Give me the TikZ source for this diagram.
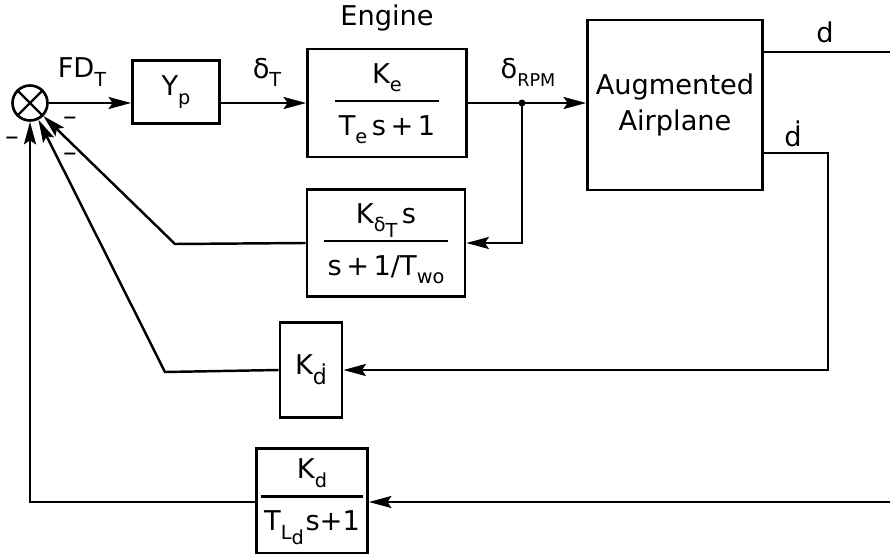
\documentclass[tikz,border=0pt]{standalone}
\usepackage{fontspec}
\setmainfont{DejaVu Sans}
\usepackage{tikz}
\usetikzlibrary{arrows.meta,positioning}
\setlength{\arrayrulewidth}{1.2pt}
\newcommand{\dn}[1]{\raisebox{-0.55ex}{\fontsize{11}{11}\selectfont #1}}
\newcommand{\blockfrac}[2]{\begin{tabular}{@{\hspace{2pt}}c@{\hspace{2pt}}}#1\\[4pt]\hline\rule{0pt}{19pt}#2\end{tabular}}

\begin{document}
\begin{tikzpicture}[
    x=0.02cm, y=-0.02cm,
    every node/.style={font=\fontsize{15.5}{18}\selectfont},
    box/.style={draw, line width=1.6pt, align=center, inner sep=0pt},
    arrow/.style={-{Stealth[length=4.5mm,width=2.4mm,inset=0.8mm]}, line width=1.4pt},
    line/.style={line width=1.4pt}
  ]
    \useasboundingbox (0,0) rectangle (890,554);

    \node[draw, line width=1.5pt, circle, minimum size=0.7cm, inner sep=0pt] (ysum) at (30,103) {};
    \draw[line width=1.4pt] (ysum.north west) -- (ysum.south east) (ysum.north east) -- (ysum.south west);

    \node[box, minimum width=1.74cm, minimum height=1.26cm] (yp) at (176,92) {Y\dn{p}};
    \node[box, minimum width=3.18cm, minimum height=2.16cm] (engine) at (387,103) {\blockfrac{K\dn{e}}{T\dn{e}\,s\,+\,1}};
    \node[above=0.2cm of engine] (enginelabel) {Engine};
    \node[box, minimum width=3.5cm, minimum height=3.4cm] (airplane) at (675,105) {Augmented\\[3pt]Airplane};
    \node[box, minimum width=3.16cm, minimum height=2.14cm] (washout) at (386,243) {\blockfrac{K\dn{δ\dn{T}}\,s}{s\,+\,1/T\dn{wo}}};
    \node[box, minimum width=1.24cm, minimum height=1.9cm] (kddot) at (311,370) {K\raisebox{-0.7ex}{\fontsize{12.5}{12.5}\selectfont ḋ}};
    \node[box, minimum width=2.22cm, minimum height=2.1cm] (kd) at (312,501) {\blockfrac{K\dn{d}}{T\dn{L\dn{d}}\hspace{1pt}s+1}};

    % forward path
    \draw[arrow] (ysum.east) -- (ysum.east -| yp.west);
    \draw[arrow] (yp.east |- ysum) -- (engine.west |- ysum);
    \draw[arrow] (engine.east) -- (airplane.west |- engine);
    \node (fdt) at (82,72) {FD\dn{T}};
    \node (deltat) at (267,72) {δ\dn{T}};
    \node (deltarpm) at (528,72) {δ\dn{\fontsize{10}{10}\selectfont RPM}};

    % outputs
    \coordinate (dout) at (890,52);
    \coordinate (ddotbend) at (828,153);
    \coordinate (dfeed) at (890,502);
    \draw[line] (airplane.east |- dout) -- (dout);
    \node (dlabel) at (825,32) {d};
    \node (ddotlabel) at (793,134) {ḋ};

    % feedback loops
    \coordinate (tap) at (522,103);
    \fill (tap) circle (3.5);
    \draw[arrow] (tap) |- (washout.east);
    \coordinate (bendwo) at (175,244);
    \draw[arrow] (washout.west) -- (bendwo) -- (ysum);
    \draw[arrow] (airplane.east |- ddotbend) -- (ddotbend) |- (kddot.east);
    \coordinate (bendkd) at (165,372);
    \draw[arrow] (kddot.west) -- (bendkd) -- (ysum);
    \draw[arrow] (dfeed) -- (kd.east |- dfeed);
    \draw[arrow] (kd.west |- dfeed) -| (ysum.south);

    % signs
    \node (minusa) at (70,121) {–};
    \node (minusb) at (70,157) {–};
    \node (minusc) at (12,141) {–};
  \end{tikzpicture}
\end{document}
